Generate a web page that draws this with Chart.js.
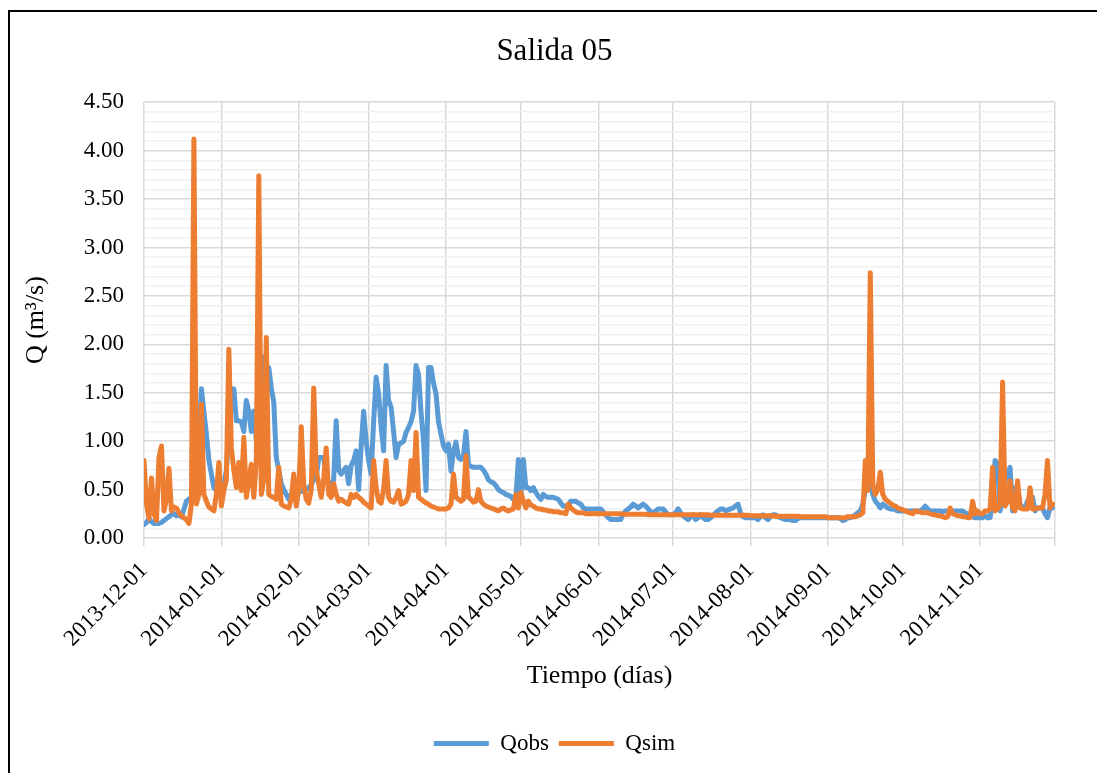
<!DOCTYPE html>
<html>
<head>
<meta charset="utf-8">
<title>Salida 05</title>
<script src="https://cdn.jsdelivr.net/npm/chart.js@4.4.1/dist/chart.umd.min.js"></script>
<style>
  html, body { margin: 0; padding: 0; background: #fff; }
  canvas { display: block; }
</style>
</head>
<body>
<canvas id="chart" width="1097" height="773"></canvas>
<script>
// Caudal diario observado y simulado, 2013-12-01 .. 2014-11-30 (un valor por día)
const qobs = [
  // dic
  0.14, 0.16, 0.20, 0.17, 0.15, 0.15, 0.15, 0.16, 0.18, 0.20,
  0.22, 0.24, 0.25, 0.23, 0.24, 0.22, 0.30, 0.38, 0.40, 0.42,
  0.45, 0.50, 1.00, 1.54, 1.30, 1.07, 0.80, 0.66, 0.52, 0.49,
  0.50,
  // ene
  0.50, 0.55, 0.70, 1.10, 1.40, 1.54, 1.21, 1.21, 1.20, 1.10,
  1.42, 1.31, 1.10, 1.31, 1.00, 1.20, 1.50, 1.87, 1.76, 1.76,
  1.55, 1.40, 0.83, 0.70, 0.56, 0.50, 0.45, 0.40, 0.45, 0.50,
  0.49,
  // feb
  0.50, 0.48, 0.49, 0.50, 0.52, 0.55, 0.60, 0.62, 0.83, 0.83,
  0.83, 0.62, 0.56, 0.56, 0.60, 1.21, 0.70, 0.66, 0.70, 0.73,
  0.56, 0.75, 0.80, 0.90, 0.50, 0.95, 1.31, 1.00,
  // mar
  0.80, 0.66, 1.20, 1.66, 1.49, 1.15, 0.90, 1.78, 1.42, 1.35,
  1.10, 0.83, 0.97, 0.98, 1.00, 1.09, 1.14, 1.20, 1.31, 1.78,
  1.69, 1.30, 1.00, 0.49, 1.76, 1.76, 1.60, 1.49, 1.20, 1.07,
  0.95,
  // abr
  0.90, 0.97, 0.69, 0.90, 0.99, 0.83, 0.81, 0.85, 1.10, 0.76,
  0.74, 0.73, 0.73, 0.73, 0.73, 0.70, 0.66, 0.60, 0.58, 0.57,
  0.54, 0.50, 0.48, 0.47, 0.45, 0.44, 0.43, 0.40, 0.42, 0.81,
  // may
  0.45, 0.81, 0.52, 0.52, 0.49, 0.52, 0.47, 0.43, 0.40, 0.45,
  0.43, 0.42, 0.42, 0.42, 0.41, 0.40, 0.36, 0.33, 0.33, 0.33,
  0.38, 0.38, 0.38, 0.36, 0.35, 0.31, 0.30, 0.30, 0.30, 0.30,
  0.30,
  // jun
  0.30, 0.30, 0.27, 0.24, 0.21, 0.19, 0.19, 0.19, 0.19, 0.19,
  0.25, 0.28, 0.30, 0.32, 0.35, 0.33, 0.31, 0.33, 0.35, 0.33,
  0.30, 0.27, 0.26, 0.28, 0.30, 0.30, 0.30, 0.27, 0.24, 0.24,
  // jul
  0.24, 0.26, 0.30, 0.26, 0.23, 0.21, 0.19, 0.22, 0.24, 0.19,
  0.21, 0.24, 0.21, 0.19, 0.19, 0.21, 0.23, 0.26, 0.28, 0.30,
  0.30, 0.28, 0.29, 0.30, 0.31, 0.33, 0.35, 0.26, 0.22, 0.21,
  0.21,
  // ago
  0.21, 0.21, 0.21, 0.19, 0.22, 0.24, 0.21, 0.19, 0.22, 0.24,
  0.24, 0.22, 0.21, 0.20, 0.19, 0.19, 0.19, 0.18, 0.18, 0.20,
  0.21, 0.21, 0.21, 0.21, 0.21, 0.21, 0.21, 0.21, 0.21, 0.21,
  0.21,
  // sep
  0.21, 0.21, 0.21, 0.21, 0.21, 0.20, 0.18, 0.19, 0.21, 0.21,
  0.22, 0.24, 0.26, 0.28, 0.35, 0.49, 0.69, 0.55, 0.45, 0.38,
  0.35, 0.31, 0.35, 0.33, 0.31, 0.30, 0.30, 0.29, 0.28, 0.28,
  // oct
  0.28, 0.28, 0.28, 0.28, 0.28, 0.28, 0.28, 0.28, 0.30, 0.33,
  0.30, 0.28, 0.28, 0.28, 0.28, 0.28, 0.27, 0.28, 0.28, 0.28,
  0.28, 0.28, 0.28, 0.28, 0.28, 0.26, 0.25, 0.23, 0.22, 0.21,
  0.21,
  // nov
  0.21, 0.21, 0.23, 0.21, 0.21, 0.40, 0.80, 0.76, 0.28, 0.45,
  0.59, 0.65, 0.73, 0.28, 0.52, 0.52, 0.35, 0.31, 0.31, 0.38,
  0.42, 0.42, 0.28, 0.31, 0.31, 0.31, 0.25, 0.21, 0.31, 0.31
];

const qsim = [
  // dic
  0.80, 0.35, 0.20, 0.62, 0.25, 0.18, 0.83, 0.95, 0.28, 0.40,
  0.72, 0.28, 0.32, 0.31, 0.26, 0.23, 0.21, 0.19, 0.15, 0.35,
  4.12, 0.35, 0.45, 1.38, 0.45, 0.38, 0.32, 0.30, 0.28, 0.45,
  0.78,
  // ene
  0.33, 0.49, 0.60, 1.95, 0.93, 0.70, 0.52, 0.78, 0.49, 1.04,
  0.42, 0.60, 0.76, 0.42, 0.80, 3.74, 0.45, 0.60, 2.07, 0.45,
  0.43, 0.42, 0.40, 0.73, 0.35, 0.33, 0.32, 0.31, 0.40, 0.66,
  0.33,
  // feb
  0.50, 1.15, 0.55, 0.40, 0.36, 0.50, 1.55, 0.70, 0.56, 0.42,
  0.60, 0.93, 0.45, 0.42, 0.56, 0.45, 0.38, 0.40, 0.38, 0.36,
  0.35, 0.45, 0.42, 0.45, 0.42, 0.40, 0.37, 0.35,
  // mar
  0.33, 0.31, 0.80, 0.52, 0.38, 0.36, 0.50, 0.80, 0.42, 0.38,
  0.37, 0.42, 0.49, 0.35, 0.36, 0.38, 0.45, 0.80, 0.49, 1.09,
  0.42, 0.40, 0.38, 0.36, 0.35, 0.33, 0.32, 0.31, 0.30, 0.30,
  0.30,
  // abr
  0.30, 0.31, 0.35, 0.66, 0.42, 0.40, 0.38, 0.40, 0.85, 0.42,
  0.40, 0.37, 0.38, 0.50, 0.38, 0.35, 0.33, 0.32, 0.31, 0.30,
  0.29, 0.28, 0.30, 0.31, 0.29, 0.28, 0.29, 0.30, 0.45, 0.31,
  // may
  0.47, 0.38, 0.31, 0.38, 0.34, 0.33, 0.31, 0.30, 0.30, 0.29,
  0.29, 0.28, 0.28, 0.27, 0.27, 0.27, 0.26, 0.26, 0.25, 0.35,
  0.31, 0.29, 0.27, 0.26, 0.26, 0.26, 0.25, 0.25, 0.25, 0.25,
  0.25,
  // jun
  0.25, 0.25, 0.25, 0.25, 0.25, 0.25, 0.25, 0.25, 0.25, 0.25,
  0.245, 0.245, 0.245, 0.245, 0.245, 0.245, 0.245, 0.245, 0.245, 0.245,
  0.24, 0.24, 0.24, 0.24, 0.24, 0.24, 0.24, 0.24, 0.24, 0.24,
  // jul
  0.24, 0.24, 0.24, 0.24, 0.24, 0.24, 0.24, 0.24, 0.24, 0.24,
  0.24, 0.24, 0.24, 0.24, 0.24, 0.235, 0.235, 0.235, 0.235, 0.235,
  0.235, 0.235, 0.235, 0.235, 0.235, 0.235, 0.235, 0.235, 0.235, 0.235,
  0.235,
  // ago
  0.23, 0.23, 0.23, 0.23, 0.23, 0.23, 0.23, 0.23, 0.23, 0.23,
  0.225, 0.225, 0.225, 0.225, 0.225, 0.225, 0.225, 0.225, 0.225, 0.225,
  0.22, 0.22, 0.22, 0.22, 0.22, 0.22, 0.22, 0.22, 0.22, 0.22,
  0.22,
  // sep
  0.21, 0.21, 0.21, 0.21, 0.21, 0.21, 0.21, 0.21, 0.22, 0.22,
  0.22, 0.22, 0.23, 0.24, 0.26, 0.80, 0.49, 2.74, 0.55, 0.45,
  0.50, 0.68, 0.45, 0.40, 0.38, 0.36, 0.34, 0.33, 0.31, 0.30,
  // oct
  0.29, 0.28, 0.27, 0.26, 0.25, 0.28, 0.27, 0.27, 0.26, 0.26,
  0.26, 0.25, 0.24, 0.24, 0.23, 0.23, 0.22, 0.21, 0.22, 0.31,
  0.25, 0.24, 0.23, 0.23, 0.22, 0.22, 0.21, 0.21, 0.38, 0.25,
  0.28,
  // nov
  0.25, 0.25, 0.28, 0.28, 0.30, 0.73, 0.28, 0.30, 0.35, 1.61,
  0.33, 0.38, 0.59, 0.31, 0.28, 0.59, 0.31, 0.30, 0.30, 0.30,
  0.52, 0.30, 0.30, 0.31, 0.31, 0.31, 0.45, 0.80, 0.31, 0.35
];

// Día (desde 2013-12-01) en que empieza cada mes, y su etiqueta
const monthTicks = [0, 31, 62, 90, 121, 151, 182, 212, 243, 274, 304, 335, 365];
const monthLabels = [
  '2013-12-01', '2014-01-01', '2014-02-01', '2014-03-01', '2014-04-01', '2014-05-01',
  '2014-06-01', '2014-07-01', '2014-08-01', '2014-09-01', '2014-10-01', '2014-11-01', ''
];

const serif = "'Liberation Serif', 'Times New Roman', serif";
Chart.defaults.font.family = serif;
Chart.defaults.color = '#000';

const toPoints = arr => arr.map((v, i) => ({ x: i, y: v }));
const isMajor = v => Math.abs(v * 2 - Math.round(v * 2)) < 1e-6;

// marco negro del gráfico
const framePlugin = {
  id: 'frame',
  afterDraw(chart) {
    const ctx = chart.ctx;
    ctx.save();
    ctx.strokeStyle = '#000';
    ctx.lineWidth = 2;
    ctx.beginPath();
    ctx.moveTo(9, chart.height);
    ctx.lineTo(9, 11);
    ctx.lineTo(chart.width, 11);
    ctx.stroke();
    ctx.restore();
  }
};

new Chart(document.getElementById('chart'), {
  type: 'line',
  data: {
    datasets: [
      {
        label: 'Qobs',
        data: toPoints(qobs),
        borderColor: '#5B9BD5',
        backgroundColor: '#5B9BD5',
        borderWidth: 5,
        borderCapStyle: 'round',
        borderJoinStyle: 'round',
        pointRadius: 0,
        tension: 0,
        order: 2
      },
      {
        label: 'Qsim',
        data: toPoints(qsim),
        borderColor: '#ED7D31',
        backgroundColor: '#ED7D31',
        borderWidth: 5,
        borderCapStyle: 'round',
        borderJoinStyle: 'round',
        pointRadius: 0,
        tension: 0,
        order: 1
      }
    ]
  },
  options: {
    responsive: false,
    animation: false,
    layout: { padding: { left: 54, right: 42, top: 0, bottom: 8 } },
    plugins: {
      title: {
        display: true,
        text: 'Salida 05',
        color: '#000',
        font: { size: 31, weight: 'normal' },
        padding: { top: 33, bottom: 32 }
      },
      legend: {
        position: 'bottom',
        labels: {
          usePointStyle: true,
          pointStyle: 'line',
          pointStyleWidth: 55,
          color: '#000',
          font: { size: 23 },
          padding: 10,
          sort: (a, b) => a.datasetIndex - b.datasetIndex
        }
      },
      tooltip: { enabled: false }
    },
    scales: {
      x: {
        type: 'linear',
        min: 0,
        max: 365,
        afterBuildTicks: axis => { axis.ticks = monthTicks.map(v => ({ value: v })); },
        afterFit: axis => { axis.height = 184; },
        ticks: {
          autoSkip: false,
          minRotation: 45,
          maxRotation: 45,
          padding: 11,
          font: { size: 23 },
          callback: (value, index) => monthLabels[index]
        },
        grid: { color: '#d9d9d9', lineWidth: 1.5, tickLength: 8 },
        border: { display: false },
        title: {
          display: true,
          text: 'Tiempo (días)',
          font: { size: 26 },
          padding: { top: 0, bottom: 30 }
        }
      },
      y: {
        min: 0,
        max: 4.5,
        afterFit: axis => { axis.width = 90; },
        ticks: {
          stepSize: 0.1,
          autoSkip: false,
          padding: 20,
          font: { size: 23 },
          callback: v => (isMajor(v) ? v.toFixed(2) : '')
        },
        grid: {
          drawTicks: false,
          lineWidth: 1.5,
          color: ctx => (isMajor(ctx.tick.value) ? '#d9d9d9' : '#f0f0f0')
        },
        border: { display: false },
        title: {
          display: true,
          text: 'Q (m³/s)',
          font: { size: 26 },
          padding: { top: -33, bottom: 0 }
        }
      }
    }
  },
  plugins: [framePlugin]
});
</script>
</body>
</html>
